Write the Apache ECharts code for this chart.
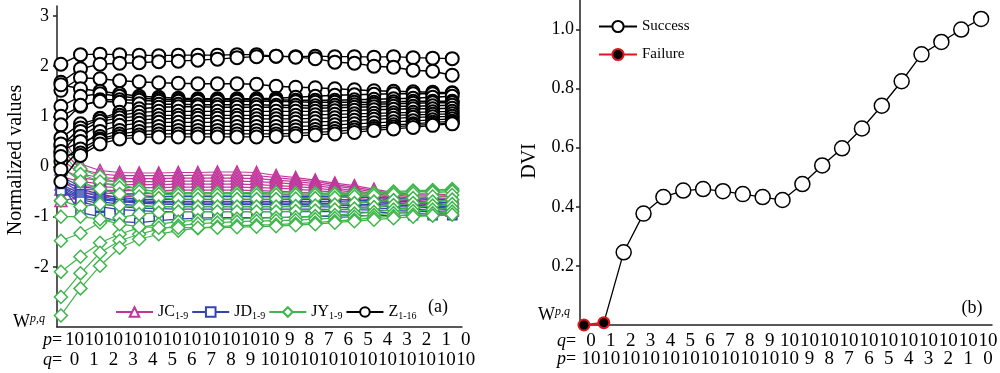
<!DOCTYPE html>
<html><head><meta charset="utf-8">
<script src="https://cdn.jsdelivr.net/npm/echarts@6/dist/echarts.min.js"></script>
<style>html,body{margin:0;padding:0;background:#fff}#c{width:1000px;height:373px}</style>
</head><body><div id="c"></div>
<script>
const steps = [0,1,2,3,4,5,6,7,8,9,10,11,12,13,14,15,16,17,18,19,20];
const pVals = [10,10,10,10,10,10,10,10,10,10,10,9,8,7,6,5,4,3,2,1,0];
const qVals = [0,1,2,3,4,5,6,7,8,9,10,10,10,10,10,10,10,10,10,10,10];
const leftTicks = [-2,-1,0,1,2,3];
const rightTicks = [0.2,0.4,0.6,0.8,1.0];

const JC = [
 [0.60,0.05,-0.08,-0.12,-0.13,-0.13,-0.12,-0.12,-0.11,-0.11,-0.12,-0.18,-0.22,-0.27,-0.33,-0.38,-0.45,-0.52,-0.55,-0.55,-0.56],
 [0.35,-0.05,-0.15,-0.18,-0.18,-0.18,-0.18,-0.17,-0.17,-0.17,-0.18,-0.22,-0.26,-0.30,-0.36,-0.41,-0.48,-0.54,-0.58,-0.59,-0.60],
 [0.15,-0.15,-0.22,-0.24,-0.24,-0.24,-0.23,-0.23,-0.23,-0.23,-0.24,-0.27,-0.30,-0.34,-0.39,-0.44,-0.51,-0.56,-0.61,-0.62,-0.64],
 [-0.05,-0.22,-0.28,-0.30,-0.30,-0.30,-0.29,-0.29,-0.29,-0.29,-0.30,-0.32,-0.35,-0.38,-0.43,-0.48,-0.54,-0.59,-0.64,-0.66,-0.68],
 [-0.20,-0.30,-0.34,-0.36,-0.36,-0.36,-0.35,-0.35,-0.35,-0.35,-0.36,-0.38,-0.40,-0.43,-0.47,-0.51,-0.57,-0.62,-0.67,-0.70,-0.72],
 [-0.35,-0.38,-0.40,-0.42,-0.42,-0.42,-0.41,-0.41,-0.41,-0.41,-0.42,-0.43,-0.45,-0.48,-0.51,-0.55,-0.60,-0.65,-0.70,-0.73,-0.76],
 [-0.45,-0.45,-0.47,-0.48,-0.48,-0.48,-0.47,-0.47,-0.47,-0.47,-0.48,-0.49,-0.51,-0.53,-0.56,-0.59,-0.63,-0.68,-0.73,-0.77,-0.80],
 [-0.58,-0.53,-0.53,-0.54,-0.54,-0.54,-0.53,-0.53,-0.53,-0.53,-0.54,-0.55,-0.56,-0.58,-0.60,-0.63,-0.67,-0.71,-0.76,-0.80,-0.84],
 [-0.68,-0.62,-0.60,-0.60,-0.60,-0.60,-0.59,-0.59,-0.59,-0.59,-0.60,-0.60,-0.61,-0.63,-0.65,-0.67,-0.71,-0.75,-0.79,-0.83,-0.87]
];
const JD = [
 [-0.20,-0.40,-0.45,-0.55,-0.58,-0.60,-0.60,-0.60,-0.60,-0.60,-0.60,-0.60,-0.60,-0.60,-0.60,-0.61,-0.62,-0.63,-0.64,-0.65,-0.66],
 [-0.25,-0.45,-0.55,-0.62,-0.65,-0.66,-0.66,-0.66,-0.66,-0.66,-0.66,-0.66,-0.66,-0.66,-0.66,-0.67,-0.68,-0.69,-0.70,-0.71,-0.72],
 [-0.30,-0.50,-0.60,-0.66,-0.68,-0.70,-0.70,-0.70,-0.70,-0.70,-0.70,-0.70,-0.70,-0.70,-0.70,-0.71,-0.72,-0.73,-0.74,-0.75,-0.76],
 [-0.35,-0.55,-0.64,-0.68,-0.71,-0.72,-0.73,-0.73,-0.73,-0.73,-0.73,-0.73,-0.73,-0.73,-0.74,-0.75,-0.76,-0.77,-0.78,-0.79,-0.80],
 [-0.40,-0.58,-0.66,-0.70,-0.73,-0.75,-0.76,-0.76,-0.76,-0.76,-0.76,-0.76,-0.76,-0.76,-0.77,-0.78,-0.79,-0.80,-0.81,-0.82,-0.83],
 [-0.42,-0.62,-0.70,-0.75,-0.78,-0.80,-0.80,-0.80,-0.80,-0.80,-0.80,-0.80,-0.80,-0.80,-0.81,-0.82,-0.83,-0.84,-0.85,-0.86,-0.87],
 [-0.45,-0.66,-0.74,-0.80,-0.83,-0.84,-0.85,-0.85,-0.85,-0.85,-0.85,-0.85,-0.85,-0.85,-0.86,-0.86,-0.87,-0.88,-0.89,-0.90,-0.91],
 [-0.48,-0.70,-0.80,-0.86,-0.88,-0.90,-0.90,-0.90,-0.90,-0.90,-0.90,-0.90,-0.90,-0.90,-0.90,-0.91,-0.92,-0.92,-0.93,-0.94,-0.95],
 [-0.35,-0.92,-1.00,-1.10,-1.12,-1.08,-1.05,-1.03,-1.02,-1.02,-1.02,-1.02,-1.01,-1.00,-0.99,-0.98,-0.98,-0.98,-0.97,-0.97,-0.97]
];
const JY = [
 [0.55,-0.05,-0.20,-0.35,-0.45,-0.50,-0.52,-0.52,-0.52,-0.52,-0.52,-0.52,-0.53,-0.53,-0.53,-0.53,-0.52,-0.50,-0.48,-0.47,-0.45],
 [0.30,-0.15,-0.30,-0.42,-0.50,-0.55,-0.57,-0.57,-0.57,-0.57,-0.57,-0.57,-0.57,-0.57,-0.56,-0.55,-0.54,-0.52,-0.50,-0.49,-0.48],
 [0.00,-0.30,-0.45,-0.55,-0.60,-0.63,-0.65,-0.65,-0.65,-0.65,-0.65,-0.65,-0.64,-0.63,-0.62,-0.60,-0.58,-0.56,-0.54,-0.52,-0.50],
 [-0.68,-0.80,-0.75,-0.78,-0.80,-0.80,-0.80,-0.80,-0.80,-0.80,-0.80,-0.80,-0.79,-0.78,-0.76,-0.73,-0.70,-0.67,-0.63,-0.60,-0.57],
 [-1.48,-1.33,-1.12,-1.02,-0.95,-0.92,-0.90,-0.90,-0.90,-0.90,-0.90,-0.90,-0.89,-0.88,-0.86,-0.84,-0.81,-0.77,-0.73,-0.70,-0.66],
 [-2.10,-1.80,-1.52,-1.35,-1.22,-1.15,-1.10,-1.07,-1.05,-1.04,-1.03,-1.02,-1.01,-0.99,-0.97,-0.94,-0.91,-0.86,-0.82,-0.78,-0.75],
 [-2.60,-2.13,-1.72,-1.48,-1.35,-1.25,-1.18,-1.14,-1.12,-1.10,-1.09,-1.08,-1.07,-1.05,-1.03,-1.00,-0.97,-0.93,-0.89,-0.86,-0.83],
 [-2.97,-2.43,-1.98,-1.62,-1.45,-1.35,-1.28,-1.23,-1.20,-1.18,-1.17,-1.16,-1.14,-1.12,-1.09,-1.06,-1.02,-0.99,-0.96,-0.93,-0.90],
 [-1.00,-1.00,-1.05,-1.15,-1.20,-1.22,-1.22,-1.22,-1.22,-1.21,-1.20,-1.19,-1.17,-1.15,-1.12,-1.09,-1.06,-1.03,-1.00,-0.98,-0.96]
];
const Z = [
 [2.04,2.23,2.24,2.23,2.22,2.21,2.22,2.22,2.22,2.23,2.23,2.20,2.19,2.20,2.19,2.19,2.18,2.19,2.17,2.16,2.15],
 [1.68,1.95,2.04,2.06,2.07,2.09,2.10,2.12,2.14,2.17,2.19,2.20,2.18,2.15,2.08,2.06,2.00,1.98,1.92,1.90,1.82],
 [1.52,1.77,1.75,1.71,1.69,1.67,1.66,1.65,1.65,1.65,1.64,1.60,1.58,1.57,1.55,1.53,1.51,1.50,1.49,1.48,1.47],
 [1.63,1.55,1.50,1.45,1.40,1.38,1.36,1.35,1.35,1.35,1.35,1.36,1.38,1.40,1.42,1.43,1.44,1.45,1.45,1.45,1.46],
 [1.20,1.40,1.45,1.40,1.36,1.34,1.33,1.33,1.33,1.33,1.33,1.33,1.32,1.32,1.32,1.33,1.34,1.35,1.36,1.38,1.40],
 [1.00,1.20,1.33,1.33,1.32,1.30,1.30,1.30,1.30,1.30,1.30,1.30,1.29,1.28,1.28,1.28,1.28,1.29,1.30,1.30,1.30],
 [0.83,1.22,1.30,1.28,1.25,1.24,1.24,1.23,1.23,1.23,1.23,1.22,1.22,1.21,1.22,1.23,1.24,1.25,1.26,1.27,1.27],
 [0.57,0.85,0.96,1.08,1.15,1.18,1.19,1.19,1.18,1.18,1.18,1.18,1.17,1.16,1.17,1.18,1.19,1.20,1.20,1.21,1.22],
 [0.40,0.77,0.95,1.02,1.08,1.10,1.10,1.10,1.10,1.10,1.10,1.10,1.10,1.10,1.11,1.12,1.13,1.14,1.15,1.15,1.16],
 [0.27,0.70,0.90,0.97,1.00,1.02,1.02,1.02,1.02,1.02,1.02,1.02,1.02,1.03,1.04,1.05,1.06,1.07,1.08,1.09,1.10],
 [0.45,0.60,0.83,0.90,0.93,0.95,0.96,0.96,0.96,0.96,0.95,0.95,0.95,0.96,0.97,0.99,1.00,1.02,1.03,1.04,1.05],
 [0.10,0.40,0.70,0.82,0.86,0.88,0.88,0.88,0.88,0.88,0.88,0.88,0.88,0.89,0.90,0.92,0.94,0.96,0.98,0.99,1.00],
 [0.30,0.50,0.60,0.72,0.78,0.80,0.80,0.80,0.80,0.80,0.80,0.80,0.80,0.81,0.83,0.85,0.87,0.89,0.91,0.93,0.95],
 [-0.06,0.35,0.55,0.65,0.70,0.72,0.72,0.72,0.72,0.72,0.72,0.72,0.73,0.74,0.76,0.78,0.80,0.83,0.85,0.88,0.90],
 [0.20,0.27,0.52,0.60,0.63,0.65,0.65,0.65,0.65,0.65,0.65,0.65,0.66,0.68,0.70,0.73,0.76,0.79,0.82,0.84,0.87],
 [-0.30,0.22,0.45,0.55,0.58,0.59,0.59,0.59,0.59,0.59,0.59,0.60,0.61,0.63,0.65,0.68,0.72,0.75,0.78,0.82,0.85]
];
const DVI = [0.000,0.008,0.246,0.377,0.433,0.455,0.460,0.453,0.443,0.433,0.423,0.477,0.540,0.598,0.665,0.742,0.825,0.916,0.958,1.000,1.036];
const failureCount = 2;

const FONT = 'Liberation Serif';
const C_JC = '#c2369c', C_JD = '#3346b0', C_JY = '#3fb64c', C_Z = '#000';

const series = [];
function add(name, arr, sym, size, color, lw, bw, z) {
  series.push({
    type: 'line', name: name, xAxisIndex: 0, yAxisIndex: 0,
    data: arr.map((v, i) => [steps[i], v]),
    symbol: sym, symbolSize: size, showAllSymbol: true, z: z,
    lineStyle: { color: color, width: lw },
    itemStyle: { color: '#fff', borderColor: color, borderWidth: bw, opacity: 1 },
    emphasis: { disabled: true }
  });
}
JC.forEach(a => add('JC', a, 'triangle', 12, C_JC, 1.2, 1.5, 2));
JD.forEach(a => add('JD', a, 'rect', 9, C_JD, 1.2, 1.5, 3));
JY.forEach(a => add('JY', a, 'diamond', 13, C_JY, 1.2, 1.5, 4));
Z.forEach(a => add('Z', a, 'circle', 13, C_Z, 1.4, 2, 5));

series.push({
  type: 'line', name: 'Success', xAxisIndex: 1, yAxisIndex: 1,
  data: DVI.map((v, i) => i < failureCount - 1 ? null : (i === failureCount - 1 ? { value: [steps[i], v], symbol: 'none' } : [steps[i], v])),
  symbol: 'circle', symbolSize: 15, showAllSymbol: true, z: 5,
  lineStyle: { color: '#000', width: 1.3 },
  itemStyle: { color: '#fff', borderColor: '#000', borderWidth: 1.5 },
  emphasis: { disabled: true }
});
series.push({
  type: 'line', name: 'Failure', xAxisIndex: 1, yAxisIndex: 1,
  data: DVI.slice(0, failureCount).map((v, i) => [steps[i], v]),
  symbol: 'circle', symbolSize: 11, z: 6,
  lineStyle: { color: '#e0141e', width: 2 },
  itemStyle: { color: '#000', borderColor: '#e0141e', borderWidth: 2 },
  emphasis: { disabled: true }
});

const axisLineStyle = { color: '#222', width: 1.5 };
const italicRich = { i: { fontFamily: FONT, fontSize: 18, fontStyle: 'italic', fill: '#000' } };
const supRich = { w: { fontFamily: FONT, fontSize: 18, fill: '#000' }, s: { fontFamily: FONT, fontSize: 12, fontStyle: 'italic', fill: '#000', verticalAlign: 'top' } };

const staticGraphic = [
  { type: 'text', x: 16, y: 160, rotation: Math.PI / 2, style: { text: 'Normalized values', fontFamily: FONT, fontSize: 20, fill: '#000', textAlign: 'center', textVerticalAlign: 'middle' } },
  { type: 'text', x: 530, y: 161, rotation: Math.PI / 2, style: { text: 'DVI', fontFamily: FONT, fontSize: 20, fill: '#000', textAlign: 'center', textVerticalAlign: 'middle' } },
  { type: 'text', x: 438, y: 307, style: { text: '(a)', fontFamily: FONT, fontSize: 18, fill: '#000', textAlign: 'center', textVerticalAlign: 'middle' } },
  { type: 'text', x: 972, y: 308, style: { text: '(b)', fontFamily: FONT, fontSize: 18, fill: '#000', textAlign: 'center', textVerticalAlign: 'middle' } },
  { type: 'text', x: 13, y: 313, style: { text: '{w|W}{s|p,q}', rich: supRich } },
  { type: 'text', x: 538, y: 306, style: { text: '{w|W}{s|p,q}', rich: supRich } },
  { type: 'text', x: 43, y: 340, style: { text: '{i|p}=', fontFamily: FONT, fontSize: 18, fill: '#000', textVerticalAlign: 'middle', rich: italicRich } },
  { type: 'text', x: 43, y: 360, style: { text: '{i|q}=', fontFamily: FONT, fontSize: 18, fill: '#000', textVerticalAlign: 'middle', rich: italicRich } },
  { type: 'text', x: 557, y: 341, style: { text: '{i|q}=', fontFamily: FONT, fontSize: 18, fill: '#000', textVerticalAlign: 'middle', rich: italicRich } },
  { type: 'text', x: 557, y: 359, style: { text: '{i|p}=', fontFamily: FONT, fontSize: 18, fill: '#000', textVerticalAlign: 'middle', rich: italicRich } }
];

const chart = echarts.init(document.getElementById('c'), null, { renderer: 'canvas' });
const option = {
  animation: false,
  backgroundColor: '#fff',
  grid: [
    { left: 57, right: 538, top: 6, bottom: 46 },
    { left: 580, right: 8, top: 0, bottom: 48 }
  ],
  xAxis: [
    { type: 'value', gridIndex: 0, min: -0.2, max: 20.5,
      axisLine: { show: true, onZero: false, lineStyle: axisLineStyle },
      axisTick: { show: false }, splitLine: { show: false }, axisLabel: { show: false } },
    { type: 'value', gridIndex: 1, min: -0.2, max: 20.55,
      axisLine: { show: true, onZero: false, lineStyle: axisLineStyle },
      axisTick: { show: false }, splitLine: { show: false }, axisLabel: { show: false } }
  ],
  yAxis: [
    { type: 'value', gridIndex: 0, min: -3.2, max: 3.2,
      axisLine: { show: true, onZero: false, lineStyle: axisLineStyle },
      axisTick: { show: true, customValues: leftTicks, length: 4, lineStyle: axisLineStyle },
      splitLine: { show: false },
      axisLabel: { customValues: leftTicks, fontFamily: FONT, fontSize: 18, color: '#000', margin: 8 } },
    { type: 'value', gridIndex: 1, min: 0, max: 1.1,
      axisLine: { show: true, onZero: false, lineStyle: axisLineStyle },
      axisTick: { show: true, customValues: rightTicks, length: 4, lineStyle: axisLineStyle },
      splitLine: { show: false },
      axisLabel: { customValues: rightTicks, formatter: v => v.toFixed(1), fontFamily: FONT, fontSize: 18, color: '#000', margin: 6 } }
  ],
  legend: [
    { data: ['JC', 'JD', 'JY', 'Z'], left: 110, top: 299, itemWidth: 37, itemHeight: 12, itemGap: 3,
      formatter: n => '{n|' + n + '}{s|' + (n === 'Z' ? '1-16' : '1-9') + '}',
      textStyle: { rich: { n: { fontFamily: FONT, fontSize: 16, color: '#000' }, s: { fontFamily: FONT, fontSize: 10, color: '#000', padding: [8, 0, 0, 0] } } } },
    { data: ['Success', 'Failure'], orient: 'vertical', left: 593, top: 14, itemWidth: 38, itemHeight: 14, itemGap: 13,
      textStyle: { fontFamily: FONT, fontSize: 15, color: '#000' } }
  ],
  graphic: staticGraphic,
  series: series
};
chart.setOption(option);

// x-axis two-row step labels, positioned through the axes' own scales
const labelGraphic = [];
function stepLabels(gridIndex, rows, dx) {
  steps.forEach((s, i) => {
    const px = chart.convertToPixel({ gridIndex: gridIndex }, [s, 0])[0];
    rows.forEach(r => {
      labelGraphic.push({ type: 'text', x: px + dx, y: r.y,
        style: { text: String(r.vals[i]), fontFamily: FONT, fontSize: 19, fill: '#000', textAlign: 'center', textVerticalAlign: 'middle' } });
    });
  });
}
stepLabels(0, [{ vals: pVals, y: 340 }, { vals: qVals, y: 360 }], 13.5);
stepLabels(1, [{ vals: qVals, y: 341 }, { vals: pVals, y: 359 }], 7);
chart.setOption({ graphic: staticGraphic.concat(labelGraphic) });
</script></body></html>
